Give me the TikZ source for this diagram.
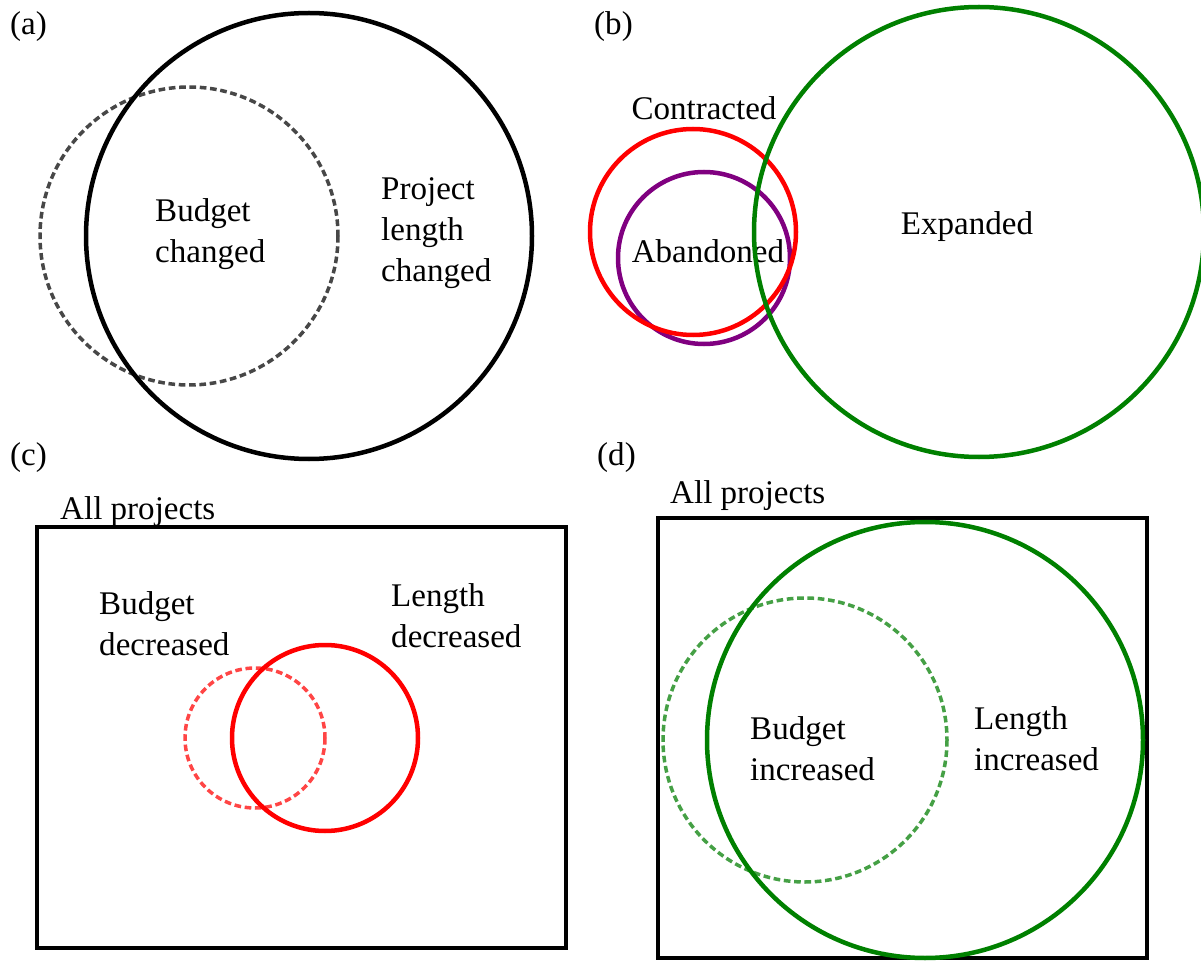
\documentclass[tikz,border=0pt]{standalone}
\usepackage{fontspec}
\setmainfont{Liberation Serif}
\definecolor{dashgray}{HTML}{474747}
\definecolor{darkgreen}{HTML}{008000}
\definecolor{lightgreen}{HTML}{45A045}
\definecolor{lightred}{HTML}{FF4545}
\definecolor{vennpurple}{HTML}{800080}

\begin{document}
\begin{tikzpicture}[x=0.3mm, y=-0.3mm,
  txt/.style={font=\fontsize{28.2}{34.8}\selectfont, inner sep=0pt, align=left},
  solidset/.style={line width=1.35mm},
  dashset/.style={line width=1.05mm, dash pattern=on 2mm off 1.1mm},
  frame/.style={line width=1.4mm}]
\useasboundingbox (0,0) rectangle (1201,961);

%PANEL A
\draw[dashset, dashgray] (189,236) circle[radius=149];
\draw[solidset, black] (309,236) circle[radius=223];
\node[txt, anchor=base west] (lblA) at (10,35) {(a)};
\node[txt, anchor=west] (budgetA) at (155,234) {Budget\\changed};
\node[txt, anchor=west] (lengthA) at (381,233) {Project\\length\\changed};

%PANEL B
\draw[solidset, vennpurple] (704,258) circle[radius=86];
\draw[solidset, red] (693,232) circle[radius=103];
\node[txt, anchor=base west] (lblB) at (594,35) {(b)};
\node[txt, anchor=base] (contracted) at (704,120) {Contracted};
\node[txt, anchor=base] (abandoned) at (708,263) {Abandoned};
\draw[solidset, darkgreen] (979,232) circle[radius=225];
\node[txt, anchor=base] (expanded) at (967,235) {Expanded};

%PANEL C
\node[txt, anchor=base west] (lblC) at (10,465) {(c)};
\node[txt, anchor=base west] (allC) at (60,519) {All projects};
\draw[frame] (37,527) rectangle (566,948);
\draw[dashset, lightred] (255,738) circle[radius=70];
\draw[solidset, red] (325,738) circle[radius=93];
\node[txt, anchor=west] (budgetC) at (99,624) {Budget\\decreased};
\node[txt, anchor=west] (lengthC) at (391,616) {Length\\decreased};

%PANEL D
\node[txt, anchor=base west] (lblD) at (597,465) {(d)};
\node[txt, anchor=base west] (allD) at (670,503) {All projects};
\draw[frame] (658,518) rectangle (1147,958);
\draw[dashset, lightgreen] (805,740) circle[radius=142];
\draw[solidset, darkgreen] (925,740) circle[radius=218];
\node[txt, anchor=west] (budgetD) at (750,749) {Budget\\increased};
\node[txt, anchor=west] (lengthD) at (974,739) {Length\\increased};
\end{tikzpicture}
\end{document}
